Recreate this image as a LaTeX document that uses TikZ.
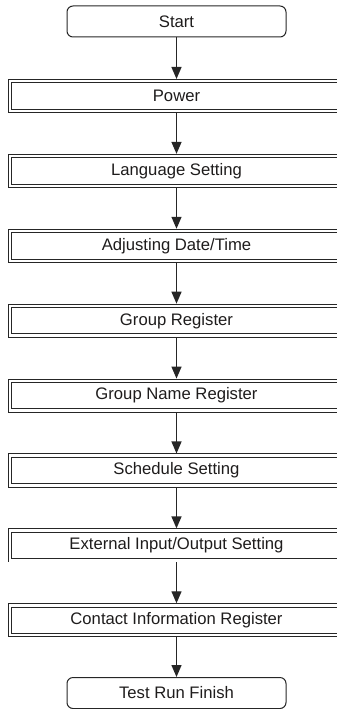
\documentclass[tikz,border=0pt]{standalone}
\usepackage{fontspec}
\setmainfont{Liberation Sans}
\usepackage{tikz}
\usetikzlibrary{arrows.meta}
\definecolor{flowline}{RGB}{38,38,38}
\definecolor{flowtext}{RGB}{30,28,28}

\begin{document}
\begin{tikzpicture}[x=0.75pt, y=-0.75pt, >={Triangle[length=9pt, width=7.5pt]},
  terminal/.style={draw=flowline, line width=0.75pt, rounded corners=4.5pt, minimum width=164.25pt, minimum height=23.25pt, inner sep=0pt, text=flowtext, font=\fontsize{12.5}{15}\selectfont},
  process/.style={draw=flowline, line width=0.7pt, double, double distance=1.8pt, minimum width=249.6pt, minimum height=22.35pt, outer sep=1.6pt, inner sep=0pt, text=flowtext, font=\fontsize{12.5}{15}\selectfont},
  flow/.style={->, flowline, line width=1pt}]
\useasboundingbox (0,0) rectangle (336,709);
\node[terminal] (start) at (176.5,21.5) {Start};
\foreach \n/\t [count=\i from 0] in {power/Power, lang/Language Setting, date/{Adjusting Date/Time}, group/Group Register, gname/Group Name Register, sched/Schedule Setting, extio/{External Input/Output Setting}, contact/Contact Information Register}
  \node[process] (\n) at (176.5,96+74.9*\i) {\t};
\node[terminal] (finish) at (176.5,693) {Test Run Finish};
\foreach \a/\b in {start/power, power/lang, lang/date, date/group, group/gname, gname/sched, sched/extio, extio/contact, contact/finish}
  \draw[flow] (\a) -- (\b);
\end{tikzpicture}
\end{document}
